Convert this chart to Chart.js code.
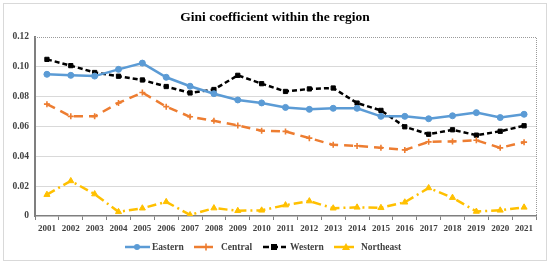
<!DOCTYPE html>
<html>
<head>
<meta charset="utf-8">
<script src="https://cdn.jsdelivr.net/npm/chart.js@4"></script>
<style>
  body { margin: 0; background: #fff; }
  #wrap { width: 550px; height: 264px; }
</style>
</head>
<body>
<div id="wrap"><canvas id="gini" width="550" height="264"></canvas></div>
<script>
const years = ['2001','2002','2003','2004','2005','2006','2007','2008','2009','2010','2011','2012','2013','2014','2015','2016','2017','2018','2019','2020','2021'];
const eastern = [0.095, 0.0943, 0.0938, 0.0983, 0.1025, 0.093, 0.087, 0.082, 0.0778, 0.0758, 0.0728, 0.0715, 0.0722, 0.0722, 0.0668, 0.0668, 0.0652, 0.0672, 0.0693, 0.066, 0.0682];
const central = [0.075, 0.0668, 0.0668, 0.0758, 0.0828, 0.0733, 0.0665, 0.0638, 0.0607, 0.0572, 0.0567, 0.0522, 0.0477, 0.047, 0.0458, 0.0443, 0.0497, 0.05, 0.0508, 0.0457, 0.0495];
const western = [0.105, 0.1008, 0.0962, 0.0937, 0.0912, 0.0868, 0.0825, 0.0848, 0.0943, 0.0887, 0.0835, 0.0852, 0.0858, 0.0757, 0.0708, 0.0598, 0.0548, 0.0578, 0.0542, 0.0568, 0.0605];
const northeast = [0.0143, 0.0235, 0.0147, 0.0028, 0.0052, 0.0095, 0.0007, 0.0053, 0.0035, 0.0038, 0.0073, 0.01, 0.0052, 0.0058, 0.0055, 0.0092, 0.0188, 0.0123, 0.003, 0.0038, 0.0058];
const seriesNames = ['Eastern', 'Central', 'Western', 'Northeast'];
const yTicks = [0, 0.02, 0.04, 0.06, 0.08, 0.1, 0.12];

const colors = ['#5B9BD5', '#ED7D31', '#000000', '#FFC000'];
const dashes = [[], [9, 6], [5, 3], [9, 4, 2, 4]];
const legendDashes = [[], [], [6, 3], []];
const marks = ['circle', 'cross', 'rect', 'triangle'];
const serif = '"Liberation Serif", "Times New Roman", serif';

function drawMark(ctx, kind, x, y, color) {
  ctx.save();
  ctx.setLineDash([]);
  ctx.fillStyle = color;
  ctx.strokeStyle = color;
  ctx.beginPath();
  if (kind === 'circle') {
    ctx.arc(x, y, 3, 0, Math.PI * 2);
    ctx.fill();
  } else if (kind === 'cross') {
    ctx.lineWidth = 1.6;
    ctx.moveTo(x - 3.5, y); ctx.lineTo(x + 3.5, y);
    ctx.moveTo(x, y - 3.5); ctx.lineTo(x, y + 3.5);
    ctx.stroke();
  } else if (kind === 'rect') {
    ctx.fillRect(x - 3, y - 3, 6, 6);
  } else {
    ctx.moveTo(x, y - 4); ctx.lineTo(x + 4, y + 3); ctx.lineTo(x - 4, y + 3);
    ctx.closePath();
    ctx.fill();
  }
  ctx.restore();
}

const frame = {
  id: 'frame',
  beforeDraw(chart) {
    const ctx = chart.ctx;
    ctx.save();
    ctx.fillStyle = '#fff';
    ctx.fillRect(0, 0, chart.width, chart.height);
    ctx.strokeStyle = '#d9d9d9';
    ctx.lineWidth = 1;
    ctx.strokeRect(3.5, 3.5, 543, 257);
    ctx.restore();
  },
  afterDatasetsDraw(chart) {
    const ctx = chart.ctx;
    const a = chart.chartArea;
    ctx.save();
    ctx.strokeStyle = '#9a9a9a';
    ctx.lineWidth = 1;
    ctx.setLineDash([1, 1]);
    ctx.beginPath();
    ctx.moveTo(a.left, a.top + 0.5);
    ctx.lineTo(a.right + 0.5, a.top + 0.5);
    ctx.lineTo(a.right + 0.5, a.bottom);
    ctx.stroke();
    ctx.restore();
  },
  afterDraw(chart) {
    const ctx = chart.ctx;
    ctx.save();
    ctx.fillStyle = '#000';
    ctx.font = 'bold 13.5px ' + serif;
    ctx.textAlign = 'center';
    ctx.textBaseline = 'middle';
    ctx.fillText('Gini coefficient within the region', 275, 18);

    const items = [
      { x1: 125, x2: 150, mx: 137, tx: 152 },
      { x1: 194, x2: 213, mx: 206, tx: 221 },
      { x1: 263, x2: 286, mx: 274, tx: 290 },
      { x1: 334, x2: 354, mx: 346, tx: 361 }
    ];
    const ly = 247;
    ctx.font = 'bold 9.5px ' + serif;
    ctx.textAlign = 'left';
    items.forEach((it, i) => {
      ctx.strokeStyle = colors[i];
      ctx.lineWidth = 2.5;
      ctx.setLineDash(legendDashes[i]);
      ctx.beginPath();
      ctx.moveTo(it.x1, ly);
      ctx.lineTo(it.x2, ly);
      ctx.stroke();
      drawMark(ctx, marks[i], it.mx, ly, colors[i]);
      ctx.fillStyle = '#404040';
      ctx.fillText(seriesNames[i], it.tx, ly + 0.5);
    });
    ctx.restore();
  }
};

const seriesData = [eastern, central, western, northeast];
const ctx = document.getElementById('gini').getContext('2d');
new Chart(ctx, {
  type: 'line',
  data: {
    labels: years,
    datasets: seriesData.map((d, i) => ({
      label: seriesNames[i],
      data: d,
      borderColor: colors[i],
      backgroundColor: colors[i],
      borderWidth: 2.5,
      borderDash: dashes[i],
      pointStyle: marks[i],
      pointRadius: marks[i] === 'triangle' ? 3.5 : 3,
      pointBorderWidth: marks[i] === 'cross' ? 1.6 : 1,
      pointBorderColor: colors[i],
      pointBackgroundColor: colors[i],
      tension: 0,
      fill: false
    }))
  },
  options: {
    responsive: false,
    animation: false,
    layout: { padding: { left: 0, right: 14, top: 37, bottom: 28 } },
    plugins: {
      legend: { display: false },
      title: { display: false },
      tooltip: { enabled: false }
    },
    scales: {
      x: {
        offset: true,
        afterFit(s) { s.height = 20; },
        grid: {
          offset: true,
          drawOnChartArea: false,
          drawTicks: true,
          tickLength: 4,
          color: '#7f7f7f'
        },
        border: { display: true, color: '#7f7f7f', width: 1.5 },
        ticks: {
          font: { family: serif, size: 9, weight: 'bold' },
          color: '#404040',
          padding: 3,
          maxRotation: 0,
          autoSkip: false
        }
      },
      y: {
        min: 0,
        max: 0.12,
        afterFit(s) { s.width = 35; },
        afterBuildTicks(s) { s.ticks = yTicks.map(v => ({ value: v })); },
        grid: {
          color: c => (c.tick.value === 0 || c.tick.value === 0.12) ? 'rgba(0,0,0,0)' : '#d9d9d9',
          lineWidth: 1,
          drawTicks: false
        },
        border: { display: true, color: '#7f7f7f', width: 2 },
        ticks: {
          font: { family: serif, size: 9.5, weight: 'bold' },
          color: '#404040',
          padding: 6
        }
      }
    }
  },
  plugins: [frame]
});
</script>
</body>
</html>
